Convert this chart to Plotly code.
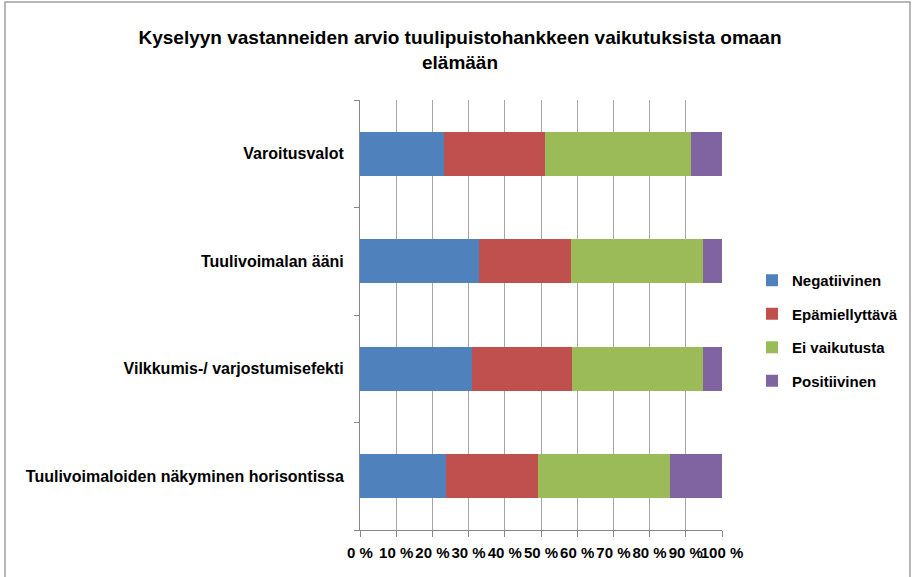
import plotly.graph_objects as go

categories = ["Varoitusvalot", "Tuulivoimalan ääni", "Vilkkumis-/ varjostumisefekti",
              "Tuulivoimaloiden näkyminen horisontissa"]
negatiivinen = [23.3, 32.8, 31.0, 23.8]
epamiellyttava = [27.9, 25.6, 27.5, 25.3]
ei_vaikutusta = [40.1, 36.4, 36.3, 36.4]
positiivinen = [8.7, 5.2, 5.2, 14.5]
series_names = ["Negatiivinen", "Epämiellyttävä", "Ei vaikutusta", "Positiivinen"]
colors = ["#4F81BD", "#C0504D", "#9BBB59", "#8064A2"]
tick_vals = [0, 10, 20, 30, 40, 50, 60, 70, 80, 90, 100]
tick_text = [f"{v} %" for v in tick_vals]

FONT = "Liberation Sans"
fig = go.Figure()
for name, vals, col in zip(series_names, [negatiivinen, epamiellyttava, ei_vaikutusta, positiivinen], colors):
    fig.add_trace(go.Bar(y=categories, x=vals, name=f"<b>{name}</b>", orientation="h",
                         marker=dict(color=col, line=dict(width=0)), legendgroup=name))

W, H = 912, 577
L, R, T, B = 360, 190, 100, 47
pw = W - L - R
ph = H - T - B

fig.update_layout(
    width=W, height=H, barmode="stack", bargap=0.59,
    margin=dict(l=L, r=R, t=T, b=B, autoexpand=False),
    paper_bgcolor="white", plot_bgcolor="white",
    font=dict(family=FONT, size=14, color="black"),
    title=dict(text="<b>Kyselyyn vastanneiden arvio tuulipuistohankkeen vaikutuksista omaan<br>elämään</b>",
               x=460 / W, xref="container", xanchor="center", y=1 - 44 / H, yref="container", yanchor="top",
               font=dict(family=FONT, size=19, color="black")),
    legend=dict(x=(752 - L) / pw, y=(H - B - 264) / ph, xanchor="left", yanchor="top",
                traceorder="grouped", tracegroupgap=11, itemwidth=30,
                font=dict(family=FONT, size=15, color="black"), bgcolor="rgba(0,0,0,0)"),
    xaxis=dict(range=[0, 100], tickvals=tick_vals, ticktext=[f"<b>{t}</b>" for t in tick_text],
               tickangle=0, automargin=False,
               showgrid=True, gridcolor="#A6A6A6", gridwidth=1,
               showline=True, linecolor="#868686", linewidth=1,
               ticks="outside", ticklen=6, tickcolor="#868686", ticklabelstandoff=3,
               tickfont=dict(family=FONT, size=15, color="black"), zeroline=False, fixedrange=True),
    yaxis=dict(autorange="reversed", type="category", tickson="boundaries", automargin=False,
               showline=True, linecolor="#868686", linewidth=1,
               ticks="outside", ticklen=5, tickcolor="#868686", ticklabelstandoff=12,
               tickfont=dict(family=FONT, size=16, color="black"), showgrid=False),
    shapes=[dict(type="rect", xref="paper", yref="paper",
                 x0=(5 - L) / pw, x1=(910 - L) / pw,
                 y0=(H - B - 600) / ph, y1=(H - B - 2) / ph,
                 line=dict(color="#A0A0A0", width=1.5), fillcolor="rgba(0,0,0,0)", layer="below")],
)
fig.update_yaxes(ticktext=[f"<b>{c}</b>" for c in categories], tickvals=categories)

fig.write_html("out.html", config={"displayModeBar": False},
               post_script="document.body.style.margin='0';")
